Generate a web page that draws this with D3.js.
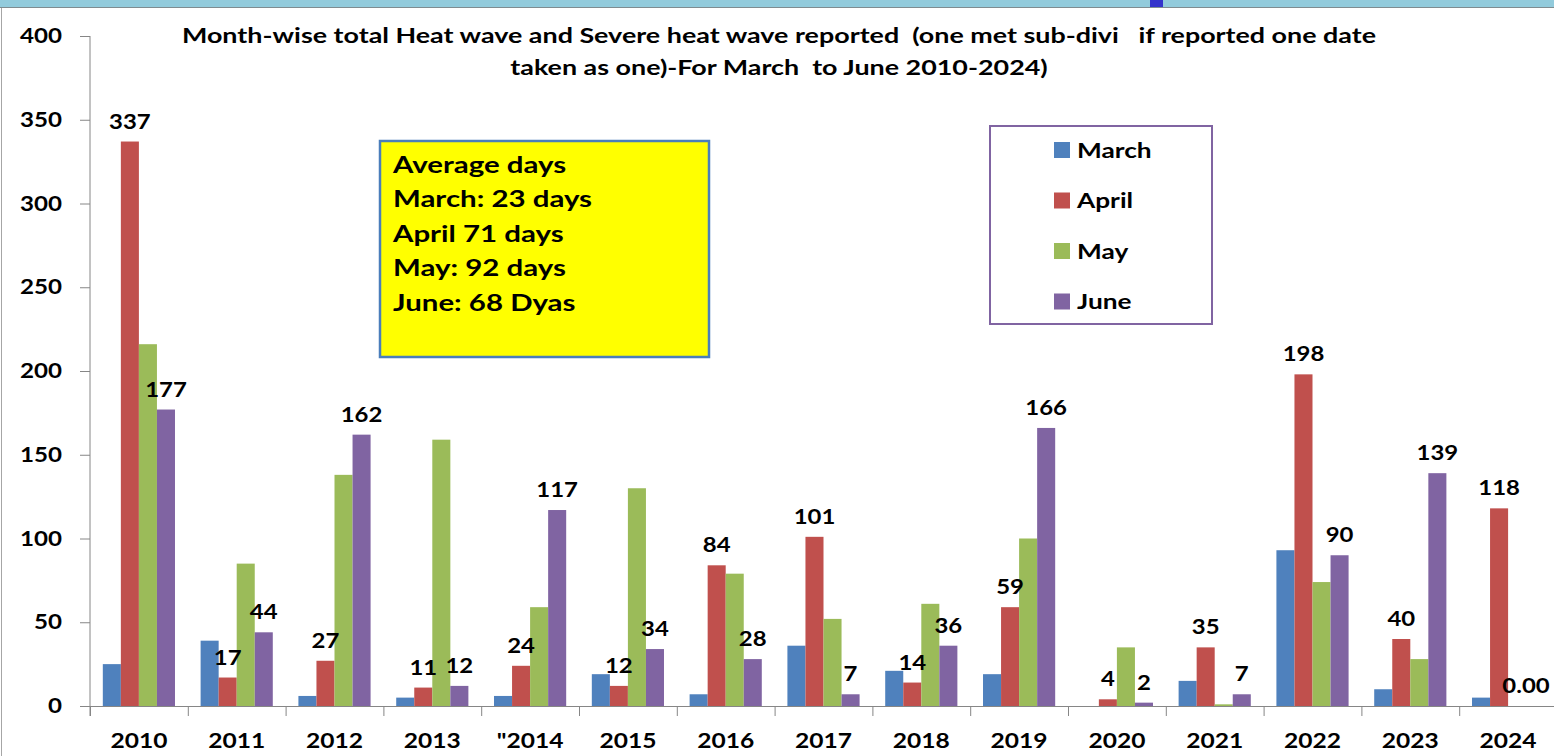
<!DOCTYPE html>
<html>
<head>
<meta charset="utf-8">
<script src="https://cdn.jsdelivr.net/npm/d3@7"></script>
<style>
    html, body { margin: 0; padding: 0; background: #fff; }
    svg { display: block; font-family: Lato, "Open Sans", sans-serif; font-weight: 700; }
</style>
</head>
<body>
<div id="chart-area"></div>
<script>
// data
const years = ['2010', '2011', '2012', '2013', '"2014', '2015', '2016', '2017', '2018', '2019', '2020', '2021', '2022', '2023', '2024'];
const months = ['March', 'April', 'May', 'June'];
const marchDays = [25, 39, 6, 5, 6, 19, 7, 36, 21, 19, 0, 15, 93, 10, 5];
const aprilDays = [337, 17, 27, 11, 24, 12, 84, 101, 14, 59, 4, 35, 198, 40, 118];
const mayDays = [216, 85, 138, 159, 59, 130, 79, 52, 61, 100, 35, 1, 74, 28, 0];
const juneDays = [177, 44, 162, 12, 117, 34, 28, 7, 36, 166, 2, 7, 90, 139, 0];
const labelledMonths = ['April', 'June'];
const yTicks = [0, 50, 100, 150, 200, 250, 300, 350, 400];
const titleLines = [
    'Month-wise total Heat wave and Severe heat wave reported  (one met sub-divi   if reported one date',
    'taken as one)-For March  to June 2010-2024)'
];
const noteLines = ['Average days', 'March: 23 days', 'April 71 days', 'May: 92 days', 'June: 68 Dyas'];

const monthColors = { March: '#4F81BD', April: '#C0504D', May: '#9BBB59', June: '#8064A2' };

const width = 1554;
const height = 756;
const seriesValues = [marchDays, aprilDays, mayDays, juneDays];

// the source picture is stretched sideways, so text gets widened around its anchor
function stretch(sel, sx) {
    sel.attr('transform', function () {
        const ax = +this.getAttribute('x') || 0;
        return `translate(${ax},0) scale(${sx},1) translate(${-ax},0)`;
    });
}

// one row per year, one key per month
const rows = years.map((year, i) => {
    const row = { year };
    months.forEach((m, k) => { row[m] = seriesValues[k][i]; });
    return row;
});

const svg = d3.select('#chart-area')
    .append('svg')
    .attr('width', width)
    .attr('height', height);

// window strip at the top and left edge
svg.append('rect').attr('x', 0).attr('y', 0).attr('width', width).attr('height', 7).attr('fill', '#92CBDC');
svg.append('line').attr('x1', 0).attr('x2', width).attr('y1', 7.5).attr('y2', 7.5).attr('stroke', '#7f8c90').attr('stroke-width', 1);
svg.append('rect').attr('x', 1150).attr('y', 0).attr('width', 13).attr('height', 7).attr('fill', '#3333CC');
svg.append('line').attr('x1', 1.5).attr('x2', 1.5).attr('y1', 8).attr('y2', height).attr('stroke', '#a6a6a6');

// scales
const x = d3.scaleBand()
    .domain(years)
    .range([90, 1557])
    .paddingInner(0)
    .paddingOuter(0);

const xInner = d3.scaleBand()
    .domain(months)
    .range([0, x.bandwidth()])
    .paddingInner(0)
    .paddingOuter(0.71);

const y = d3.scaleLinear()
    .domain([0, 400])
    .range([706, 36]);

// title
svg.append('g')
    .selectAll('text')
    .data(titleLines)
    .join('text')
    .attr('x', 779)
    .attr('y', (d, i) => 43 + i * 32)
    .attr('text-anchor', 'middle')
    .attr('font-size', 21)
    .style('white-space', 'pre')
    .text(d => d)
    .call(stretch, 1.28);

// y axis
const yAxis = d3.axisLeft(y)
    .tickValues(yTicks)
    .tickSize(10)
    .tickPadding(18);

const yAxisG = svg.append('g')
    .attr('transform', 'translate(90,0)')
    .call(yAxis);
yAxisG.select('.domain').attr('stroke', '#868686').attr('d', 'M0,36V716');
yAxisG.selectAll('.tick line').attr('stroke', '#868686');
yAxisG.selectAll('.tick text')
    .attr('font-size', 21)
    .attr('font-family', 'Lato, sans-serif')
    .attr('font-weight', 700)
    .attr('fill', '#000')
    .call(stretch, 1.15);

// x axis, ticks sit on the category boundaries
const xAxisG = svg.append('g').attr('class', 'x-axis');
xAxisG.append('line')
    .attr('x1', x.range()[0]).attr('x2', width)
    .attr('y1', y(0) + 0.5).attr('y2', y(0) + 0.5)
    .attr('stroke', '#868686');
xAxisG.selectAll('.boundary')
    .data(years)
    .join('line')
    .attr('class', 'boundary')
    .attr('x1', d => x(d) + 0.5).attr('x2', d => x(d) + 0.5)
    .attr('y1', y(0)).attr('y2', y(0) + 10)
    .attr('stroke', '#868686');
xAxisG.selectAll('.year-label')
    .data(years)
    .join('text')
    .attr('class', 'year-label')
    .attr('x', d => x(d) + x.bandwidth() / 2)
    .attr('y', 748)
    .attr('text-anchor', 'middle')
    .attr('font-size', 21)
    .text(d => d)
    .call(stretch, 1.17);

// bars
const groups = svg.append('g')
    .selectAll('g')
    .data(rows)
    .join('g')
    .attr('transform', d => `translate(${x(d.year)},0)`);

groups.selectAll('rect')
    .data(d => months.map(m => ({ month: m, value: d[m] })))
    .join('rect')
    .attr('x', d => xInner(d.month))
    .attr('y', d => y(d.value))
    .attr('width', xInner.bandwidth())
    .attr('height', d => y(0) - y(d.value))
    .attr('fill', d => monthColors[d.month]);

// value labels on April and June only
groups.selectAll('text')
    .data(d => labelledMonths.map(m => ({ month: m, value: d[m], x0: x(d.year) })))
    .join('text')
    .attr('x', d => Math.min(xInner(d.month) + xInner.bandwidth() / 2, width - 28 - d.x0))
    .attr('y', d => y(d.value) - 13)
    .attr('text-anchor', 'middle')
    .attr('font-size', 21)
    .text(d => d.value === 0 ? '0.00' : d.value)
    .call(stretch, 1.14);

// yellow note box
const note = svg.append('g');
note.append('rect')
    .attr('x', 380).attr('y', 141)
    .attr('width', 329).attr('height', 216)
    .attr('fill', '#FFFF00')
    .attr('stroke', '#4A7EBB')
    .attr('stroke-width', 2.5);
note.selectAll('text')
    .data(noteLines)
    .join('text')
    .attr('x', 393)
    .attr('y', (d, i) => 173 + i * 34.5)
    .attr('font-size', 23)
    .text(d => d)
    .call(stretch, 1.28);

// legend
const legend = svg.append('g');
legend.append('rect')
    .attr('x', 990).attr('y', 126)
    .attr('width', 222).attr('height', 198)
    .attr('fill', '#fff')
    .attr('stroke', '#8064A2')
    .attr('stroke-width', 2);
const legendItems = legend.selectAll('.legend-item')
    .data(months)
    .join('g')
    .attr('class', 'legend-item')
    .attr('transform', (d, i) => `translate(1054,${150 + i * 50.5})`);
legendItems.append('rect')
    .attr('x', 0).attr('y', -8)
    .attr('width', 16).attr('height', 16)
    .attr('fill', d => monthColors[d]);
legendItems.append('text')
    .attr('x', 23)
    .attr('y', 7.5)
    .attr('font-size', 21)
    .text(d => d)
    .call(stretch, 1.25);
</script>
</body>
</html>
